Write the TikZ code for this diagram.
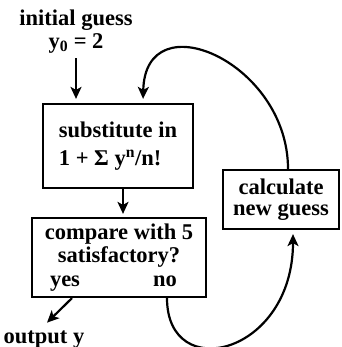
\documentclass[tikz,border=0pt]{standalone}
\usepackage{fontspec}
\setmainfont{Liberation Serif}
\usetikzlibrary{arrows.meta}
\begin{document}
\begin{tikzpicture}[x=1pt,y=-1pt,
  txt/.style={font=\bfseries\fontsize{22.5}{#1}\selectfont, inner sep=0pt, align=center},
  txt/.default=23,
  box/.style={draw, line width=2.2pt, inner sep=0pt},
  arr/.style={line width=2.2pt, -{Stealth[length=12pt,width=11pt,inset=3pt]}}
]
\useasboundingbox (0,0) rectangle (341,347);
% texts and boxes
\node[txt] (init) at (76,31.4) {initial guess\\y\textsubscript{0} = 2};
\node[box, txt=28, align=left, minimum width=150pt, minimum height=84pt] (box1) at (118,146)
  {substitute in\\1 + Σ y\textsuperscript{n}/n!};
\node[box, txt, minimum width=174pt, minimum height=79pt] (box2) at (119,257.5)
  {compare with 5\\satisfactory?\\\vphantom{y}};
\node[txt, anchor=base] (yes) at (65,286) {yes};
\node[txt, anchor=base] (no) at (165,286) {no};
\node[box, txt=21.5, minimum width=116pt, minimum height=59pt] (box3) at (281,199.5)
  {calculate\\new guess};
\node[txt, anchor=base] (out) at (44,343) {output y};
% connectors
\draw[arr, shorten <=5pt, shorten >=4pt] (init.south) -- (box1.north -| init.south);
\draw[arr, shorten >=3pt] ([xshift=5pt]box1.south) -- ([xshift=4pt]box2.north);
\draw[arr] ([xshift=7pt]box2.south -| yes) -- ([xshift=3pt,yshift=7.5pt]out.north);
\draw[arr, shorten >=4pt] ([xshift=2pt]box2.south -| no) .. controls (167,385) and (293,355) .. ([xshift=12pt]box3.south);
\draw[arr, shorten >=4pt] ([xshift=7pt]box3.north) .. controls (288,62) and (145,0) .. ([xshift=25pt]box1.north);
\end{tikzpicture}
\end{document}
